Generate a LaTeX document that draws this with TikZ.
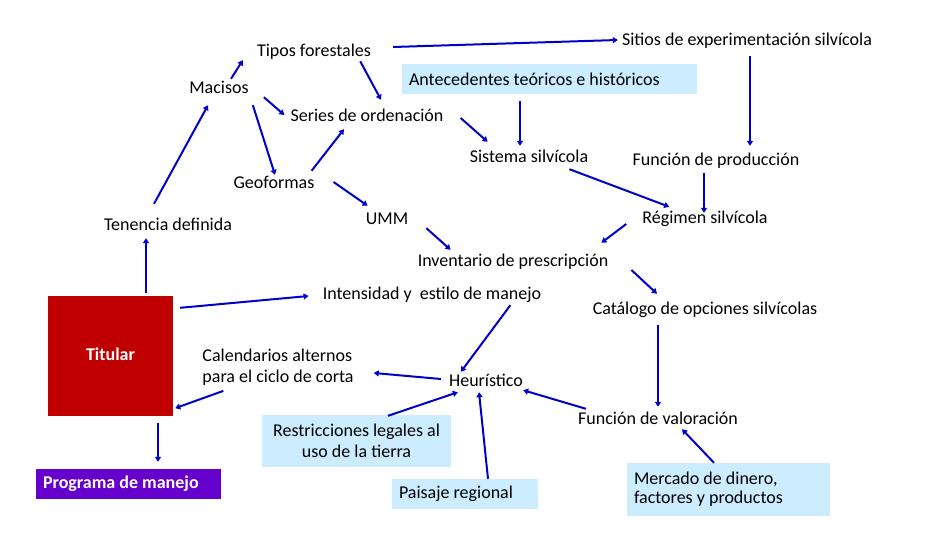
\documentclass[tikz,border=0pt]{standalone}
\usepackage{fontspec}
\setmainfont{Carlito}
\usetikzlibrary{arrows.meta}
\definecolor{arrowblue}{HTML}{0000CC}
\definecolor{infoblue}{HTML}{CCECFF}
\definecolor{titred}{HTML}{C00000}
\definecolor{progpurple}{HTML}{6600CC}
\begin{document}
\begin{tikzpicture}[x=1pt,y=-1pt,
	lbl/.style={font=\fontsize{18}{21}\selectfont,inner sep=2pt,text height=14pt,text depth=2pt},
	multi/.style={font=\fontsize{18}{21}\selectfont,inner sep=2pt},
	infobox/.style={multi,fill=infoblue,inner xsep=7pt,align=flush left},
	arr/.style={draw=arrowblue,line width=2pt,-{Triangle[length=5pt,width=6pt]}}]
	\useasboundingbox (0,0) rectangle (950,534);
	\node[lbl] (tipos) at (314,51) {Tipos forestales};
	\node[lbl] (sitios) at (747,40) {Sitios de experimentación silvícola};
	\node[infobox,minimum height=30pt,text width=281pt] (antec) at (549.5,79) {Antecedentes teóricos e históricos};
	\node[lbl] (mac) at (219,88) {Macisos};
	\node[lbl] (series) at (367,116) {Series de ordenación};
	\node[lbl] (sist) at (529,157) {Sistema silvícola};
	\node[lbl] (fprod) at (716,160) {Función de producción};
	\node[lbl] (geo) at (274,183) {Geoformas};
	\node[lbl] (umm) at (387,219) {UMM};
	\node[lbl] (reg) at (705,218) {Régimen silvícola};
	\node[lbl] (ten) at (168,225) {Tenencia definida};
	\node[lbl] (inv) at (513,261) {Inventario de prescripción};
	\node[lbl] (inten) at (432,294) {Intensidad y\ \ estilo de manejo};
	\node[lbl] (cat) at (705,309) {Catálogo de opciones silvícolas};
	\node[multi,align=flush left] (cal) at (278,367) {Calendarios alternos\\para el ciclo de corta};
	\node[lbl] (heur) at (486,380) {Heurístico};
	\node[lbl] (fval) at (658,418) {Función de valoración};
	\node[multi,fill=titred,text=white,font=\fontsize{18}{21}\selectfont\bfseries,minimum width=125pt,minimum height=120pt] (tit) at (110.5,356) {\raisebox{3pt}{Titular}};
	\node[infobox,align=flush center,minimum height=52pt,text width=175pt] (restr) at (356.5,441) {Restricciones legales al\\uso de la tierra};
	\node[infobox,minimum height=30pt,text width=132pt] (paisaje) at (465,494) {Paisaje regional};
	\node[infobox,minimum height=53pt,text width=189pt] (merc) at (728.5,489.5) {\raisebox{-2pt}{Mercado de dinero,}\\factores y productos};
	\node[multi,fill=progpurple,text=white,font=\fontsize{18}{21}\selectfont\bfseries,inner xsep=7pt,align=flush left,minimum height=30pt,text width=171pt] (prog) at (128.5,484) {Programa de manejo};
	\draw[arr] ([xshift=20pt,yshift=4pt]tipos.east) -- ([xshift=-2pt]sitios.west);
	\draw[arr] ([xshift=12pt,yshift=-1pt]mac.north) -- ([xshift=-12pt,yshift=1pt]tipos.south west);
	\draw[arr] ([xshift=-13pt]tipos.south east) -- ([xshift=14pt,yshift=6pt]series.north);
	\draw[arr] ([xshift=13pt,yshift=1pt]mac.south east) -- ([xshift=-4pt,yshift=1pt]series.west);
	\draw[arr] ([xshift=2pt,yshift=-7pt]mac.south east) -- ([xshift=1pt,yshift=-2pt]geo.north);
	\draw[arr] ([xshift=-5pt,yshift=2pt]geo.north east) -- ([xshift=-23pt,yshift=-3pt]series.south);
	\draw[arr] ([xshift=17pt,yshift=1pt]geo.east) -- ([xshift=4pt,yshift=3pt]umm.north west);
	\draw[arr] ([xshift=16pt,yshift=1pt]umm.south east) -- ([xshift=35pt,yshift=1pt]inv.north west);
	\draw[arr] ([xshift=15pt,yshift=-2pt]series.east) -- ([xshift=20pt,yshift=5pt]sist.north west);
	\draw[arr] ([xshift=-29.5pt,yshift=-7pt]antec.south) -- ([xshift=-9pt,yshift=1pt]sist.north);
	\draw[arr] ([xshift=3pt,yshift=-6pt]sitios.south) -- ([xshift=34pt,yshift=4pt]fprod.north);
	\draw[arr] ([xshift=-12pt,yshift=-3pt]fprod.south) -- ([xshift=-1pt,yshift=-5pt]reg.north);
	\draw[arr] ([xshift=-21pt,yshift=-2pt]sist.south east) -- ([xshift=29pt,yshift=1pt]reg.north west);
	\draw[arr] ([xshift=-14pt,yshift=-6pt]reg.west) -- ([xshift=-9pt,yshift=8pt]inv.north east);
	\draw[arr] ([xshift=21pt,yshift=-9pt]inv.east) -- ([xshift=-48pt,yshift=5pt]cat.north);
	\draw[arr] ([xshift=-14pt,yshift=11pt]ten.north) -- ([xshift=-11pt,yshift=-7pt]mac.south);
	\draw[arr] ([xshift=35.5pt,yshift=3pt]tit.north) -- ([xshift=-22pt,yshift=-3pt]ten.south);
	\draw[arr] ([xshift=7pt,yshift=-12pt]tit.north east) -- ([xshift=-12pt,yshift=-2pt]inten.west);
	\draw[arr] ([xshift=-33pt,yshift=-1pt]inten.south east) -- ([xshift=14pt,yshift=-2pt]heur.north west);
	\draw[arr] ([xshift=-6pt,yshift=1pt]heur.west) -- ([xshift=18pt,yshift=-6pt]cal.east);
	\draw[arr] ([xshift=23pt,yshift=-3.5pt]cal.south west) -- ([xshift=2pt,yshift=8pt]tit.south east);
	\draw[arr] ([xshift=47.5pt,yshift=-7pt]tit.south) -- ([xshift=29.5pt,yshift=7pt]prog.north);
	\draw[arr] ([xshift=31.5pt,yshift=-1pt]restr.north) -- ([xshift=11pt,yshift=-2pt]heur.south west);
	\draw[arr] ([xshift=23pt]paisaje.north) -- ([xshift=-7pt,yshift=-2pt]heur.south);
	\draw[arr] ([xshift=10pt,yshift=-1pt]fval.north west) -- ([xshift=-2pt]heur.south east);
	\draw[arr] ([xshift=-47pt,yshift=-6pt]cat.south) -- ([yshift=1pt]fval.north);
	\draw[arr] ([xshift=-14.5pt]merc.north) -- ([xshift=24pt,yshift=-1pt]fval.south);
\end{tikzpicture}
\end{document}
